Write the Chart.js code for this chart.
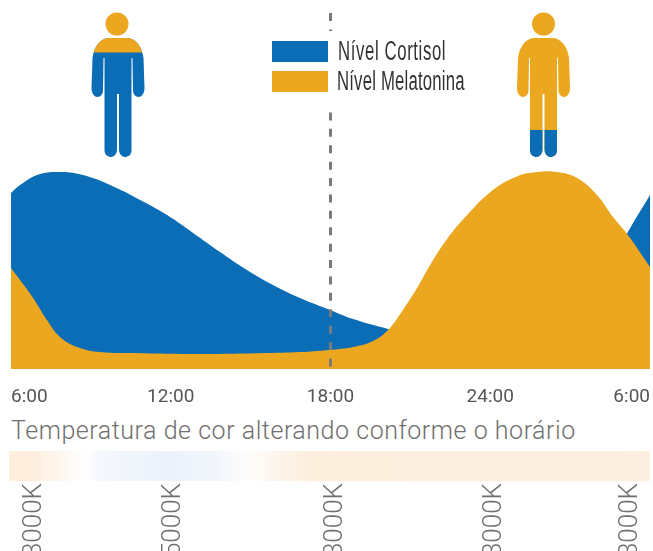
<!DOCTYPE html>
<html lang="pt">
<head>
<meta charset="utf-8">
<title>Cortisol e melatonina</title>
<script src="https://cdn.jsdelivr.net/npm/chart.js@4"></script>
<style>
    body { margin: 0; background: #fff; width: 653px; height: 551px; overflow: hidden; position: relative; }
    canvas { position: absolute; left: 0; }
    #levelChart { top: 0; }
    #tempChart { top: 451px; }
    #tempTitle { position: absolute; left: 11px; top: 416px; font: 300 25px Roboto, sans-serif; letter-spacing: 0.54px; color: #6f6f6f; white-space: nowrap; }
    .swatch { position: absolute; left: 272px; width: 56px; height: 21px; }
    .legendText { position: absolute; left: 338px; font: 27px "Liberation Sans Narrow", sans-serif; letter-spacing: 1px; color: #333; transform: scaleX(0.62); transform-origin: left top; white-space: nowrap; }
    svg { position: absolute; left: 0; top: 0; }
</style>
</head>
<body>
<canvas id="levelChart" width="653" height="410"></canvas>
<div id="tempTitle">Temperatura de cor alterando conforme o horário</div>
<canvas id="tempChart" width="653" height="100"></canvas>

<div class="swatch" style="top: 41px; background: #0b6db6;"></div>
<div class="legendText" style="top: 36px;">Nível Cortisol</div>
<div class="swatch" style="top: 71px; background: #eba71f;"></div>
<div class="legendText" style="top: 66px; left: 337px; letter-spacing: 0.3px;">Nível Melatonina</div>

<svg width="653" height="170">
    <defs>
        <path id="body" d="M-9 38H9C17 38 24 46 25.5 58L26.5 88C26.5 94 23 97 21 97C17 97 15 94 15 90L14.5 58H13.5V150C13.5 155 10 157 7 157C4 157 1.2 154 1 150V94H-1V150C-1.2 154-4 157-7 157C-10 157-13.5 155-13.5 150V58H-14.5L-15 90C-15 94-17 97-21 97C-23 97-26.5 94-26.5 88L-25.5 58C-24 46-17 38-9 38Z"/>
        <clipPath id="chest"><rect x="-30" y="0" width="60" height="52.5"/></clipPath>
        <clipPath id="shins"><rect x="-30" y="130" width="60" height="30"/></clipPath>
    </defs>
    <g transform="translate(118 0)">
        <circle cx="-1" cy="24" r="11.5" fill="#eba71f"/>
        <use href="#body" fill="#0b6db6"/>
        <use href="#body" fill="#eba71f" clip-path="url(#chest)"/>
    </g>
    <g transform="translate(543.5 0)">
        <circle cx="0" cy="24" r="11.5" fill="#eba71f"/>
        <use href="#body" fill="#eba71f"/>
        <use href="#body" fill="#0b6db6" clip-path="url(#shins)"/>
    </g>
</svg>

<script>
const hourTicks = [6, 12, 18, 24, 30];
const hourLabels = ['6:00', '12:00', '18:00', '24:00', '6:00'];

const cortisolHours = [6.00, 6.34, 7.09, 7.92, 8.70, 9.72, 10.85, 11.86, 12.84, 13.85, 14.86, 15.84, 16.85, 17.98, 18.85, 20.16, 22.49, 25.12, 27.75, 28.50, 29.17, 30.00];
const cortisolLevels = [88.5, 92.5, 98.0, 99.0, 97.5, 92.5, 85.0, 77.4, 68.4, 58.8, 49.8, 42.2, 35.7, 29.7, 25.1, 20.1, 12.0, 14.6, 34.7, 52.3, 68.9, 87.5];

const melatoninHours = [6.00, 6.34, 6.83, 7.35, 7.84, 8.48, 9.34, 10.58, 13.10, 15.62, 16.85, 17.91, 18.85, 19.60, 20.16, 20.72, 21.25, 21.74, 22.38, 23.13, 24.10, 25.00, 25.76, 26.51, 27.26, 28.01, 28.61, 29.17, 30.00];
const melatoninLevels = [50.8, 44.7, 35.7, 24.6, 16.1, 11.1, 8.5, 8.0, 7.5, 8.0, 8.5, 9.6, 11.1, 14.1, 19.6, 29.7, 40.7, 52.3, 65.4, 77.4, 90.0, 96.8, 99.0, 99.0, 96.0, 87.5, 76.4, 67.4, 51.3];

// dashed 18:00 marker, the null leaves the gap behind the legend
const markerHours = [18, 18, 18, 18, 18];
const markerLevels = [179, 170, null, 129, 0];

const kelvinHours = [6.85, 12.05, 18.1, 24.05, 29.15];
const kelvinLabels = ['3000K', '5000K', '3000K', '3000K', '3000K'];

const stripStops = [0, 0.037, 0.12, 0.14, 0.247, 0.32, 0.376, 0.427, 0.474, 1];
const stripColors = ['#fdeedd', '#fdeedd', '#ffffff', '#f5f8fd', '#ebf2fb', '#f1f6fc', '#fffdfb', '#fdf3e8', '#fdeedd', '#fcefe0'];

function toPoints(xs, ys) {
    return xs.map((x, i) => ({ x: x, y: ys[i] }));
}

new Chart(document.getElementById('levelChart').getContext('2d'), {
    type: 'line',
    data: {
        datasets: [
            {
                label: 'Marcador 18:00',
                data: toPoints(markerHours, markerLevels),
                borderColor: '#7a7a7a',
                borderWidth: 3,
                borderDash: [8, 8.4],
                pointRadius: 0,
                tension: 0,
                fill: false,
                order: 0
            },
            {
                label: 'Nível Melatonina',
                data: toPoints(melatoninHours, melatoninLevels),
                borderWidth: 0,
                backgroundColor: '#eba71f',
                tension: 0.4,
                pointRadius: 0,
                fill: 'origin',
                order: 1
            },
            {
                label: 'Nível Cortisol',
                data: toPoints(cortisolHours, cortisolLevels),
                borderWidth: 0,
                backgroundColor: '#0b6db6',
                tension: 0.4,
                pointRadius: 0,
                fill: 'origin',
                order: 2
            }
        ]
    },
    options: {
        responsive: false,
        animation: false,
        layout: { autoPadding: false, padding: { left: 11, right: 3, top: 11, bottom: 0 } },
        plugins: { legend: { display: false }, tooltip: { enabled: false } },
        scales: {
            x: {
                type: 'linear',
                min: 6,
                max: 30,
                grid: { display: false },
                border: { display: false },
                afterBuildTicks: (scale) => { scale.ticks = hourTicks.map(v => ({ value: v })); },
                afterFit: (scale) => { scale.height = 41; scale.paddingLeft = 0; scale.paddingRight = 0; },
                ticks: {
                    align: 'inner',
                    autoSkip: false,
                    maxRotation: 0,
                    padding: 9,
                    color: '#555',
                    font: { family: 'Roboto', size: 19 },
                    callback: (value, index) => hourLabels[index]
                }
            },
            y: { display: false, min: 0, max: 180 }
        }
    }
});

new Chart(document.getElementById('tempChart').getContext('2d'), {
    type: 'bar',
    data: {
        labels: ['Temperatura'],
        datasets: [{
            data: [[6, 30]],
            barPercentage: 1,
            categoryPercentage: 1,
            backgroundColor: (context) => {
                const area = context.chart.chartArea;
                if (!area) return stripColors[0];
                const gradient = context.chart.ctx.createLinearGradient(area.left, 0, area.right, 0);
                stripStops.forEach((stop, i) => gradient.addColorStop(stop, stripColors[i]));
                return gradient;
            }
        }]
    },
    options: {
        indexAxis: 'y',
        responsive: false,
        animation: false,
        layout: { autoPadding: false, padding: { left: 9, right: 3, top: 0, bottom: 0 } },
        plugins: { legend: { display: false }, tooltip: { enabled: false } },
        scales: {
            x: {
                type: 'linear',
                min: 6,
                max: 30,
                grid: { display: false, drawTicks: false },
                border: { display: false },
                afterBuildTicks: (scale) => { scale.ticks = kelvinHours.map(v => ({ value: v })); },
                afterFit: (scale) => { scale.height = 70; scale.paddingLeft = 0; scale.paddingRight = 0; },
                ticks: {
                    autoSkip: false,
                    minRotation: 90,
                    maxRotation: 90,
                    padding: 2,
                    labelOffset: 3,
                    color: '#6f6f6f',
                    font: { family: 'Roboto', size: 26, weight: '300' },
                    callback: (value, index) => kelvinLabels[index]
                }
            },
            y: { display: false }
        }
    }
});
</script>
</body>
</html>
